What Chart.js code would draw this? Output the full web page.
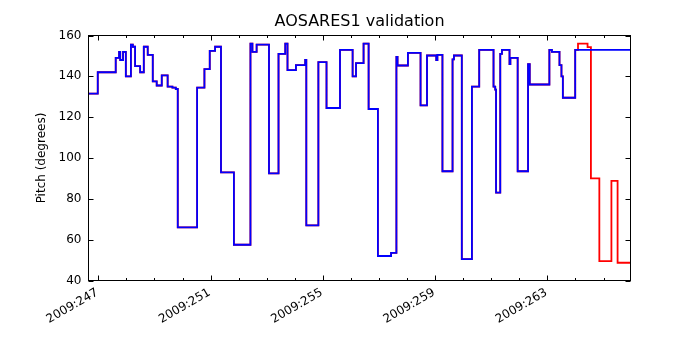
<!DOCTYPE html>
<html><head><meta charset="utf-8">
<script src="https://cdn.jsdelivr.net/npm/chart.js@4"></script>
<style>html,body{margin:0;padding:0;background:#fff;} canvas{display:block;}</style>
</head><body>
<canvas id="c" width="700" height="350"></canvas>
<script>
const chartTitle = 'AOSARES1 validation';
const yAxisLabel = 'Pitch (degrees)';
const tickYear = '2009';
const majorDays = [247, 251, 255, 259, 263];
const xMin = 246.65, xMax = 265.96;
const yMin = 40, yMax = 160, yStep = 20;

// Blue series (telemetry): change times (day of year) and new pitch values
const blueTimes = [246.65, 246.98, 247.62, 247.74, 247.78, 247.88, 247.98, 248.16, 248.23, 248.31,
  248.49, 248.62, 248.76, 248.94, 249.08, 249.26, 249.47, 249.64, 249.76, 249.83,
  250.52, 250.78, 250.97, 251.16, 251.37, 251.83, 252.42, 252.49, 252.64, 253.08,
  253.42, 253.66, 253.74, 254.04, 254.37, 254.41, 254.84, 255.13, 255.61, 256.06,
  256.18, 256.45, 256.63, 256.96, 257.43, 257.62, 257.66, 258.03, 258.48, 258.71,
  259.04, 259.08, 259.26, 259.62, 259.67, 259.95, 260.31, 260.57, 261.08, 261.14,
  261.17, 261.32, 261.38, 261.65, 261.68, 261.94, 262.31, 262.37, 263.07, 263.16,
  263.43, 263.50, 263.55, 263.99, 265.96];
const blueValues = [131.5, 142, 149, 152, 148, 152, 140, 155.5, 154.5, 145,
  142, 154.5, 150.5, 137.5, 135.5, 140.5, 135, 134.5, 133.8, 66,
  134.5, 143.5, 152.5, 154.5, 93, 57.5, 156, 152, 155.5, 92.5,
  151, 156, 143, 145.5, 148, 67, 147, 124.5, 153, 140,
  146.5, 156, 124, 52, 53.5, 149.5, 145.3, 151.5, 125.8, 150.2,
  148, 150.5, 93.5, 148.3, 150.2, 50.5, 135, 153, 135, 133.5,
  83, 151, 153, 146, 149, 93.5, 146, 136, 153, 152,
  145.5, 140, 129.5, 153, 153];

// Red series (model): identical to blue until day 263.99, then diverges
const redSharedCount = 74;
const redTailTimes = [264.09, 264.43, 264.55, 264.85, 265.28, 265.50, 265.96];
const redTailValues = [156, 154.3, 90, 49.5, 88.8, 48.7, 48.7];

const redTimes = blueTimes.slice(0, redSharedCount).concat(redTailTimes);
const redValues = blueValues.slice(0, redSharedCount).concat(redTailValues);

const toPoints = (ts, vs) => ts.map((t, i) => ({x: t, y: vs[i]}));

Chart.defaults.font.family = 'DejaVu Sans';
Chart.defaults.color = '#000';

const frameTicks = {
  id: 'frameTicks',
  afterDatasetsDraw(chart) {
    const {ctx, chartArea: a, scales: {x, y}} = chart;
    ctx.save();
    ctx.strokeStyle = '#000';
    ctx.lineWidth = 1;
    ctx.beginPath();
    for (let d = Math.ceil(xMin); d <= Math.floor(xMax); d++) {
      const px = Math.round(x.getPixelForValue(d)) + 0.5;
      const len = majorDays.includes(d) ? 5 : 2.5;
      ctx.moveTo(px, a.bottom); ctx.lineTo(px, a.bottom - len);
      ctx.moveTo(px, a.top); ctx.lineTo(px, a.top + len);
    }
    for (let v = yMin; v <= yMax; v += yStep) {
      const py = Math.round(y.getPixelForValue(v)) + 0.5;
      ctx.moveTo(a.left, py); ctx.lineTo(a.left + 5, py);
      ctx.moveTo(a.right, py); ctx.lineTo(a.right - 5, py);
    }
    ctx.stroke();
    ctx.strokeRect(a.left, a.top, a.right - a.left, a.bottom - a.top);
    ctx.restore();
  }
};

new Chart(document.getElementById('c'), {
  type: 'line',
  data: {
    datasets: [
      {label: 'telemetry', data: toPoints(blueTimes, blueValues), borderColor: '#0000ff',
       borderWidth: 1.8, pointRadius: 0, stepped: true, fill: false},
      {label: 'model', data: toPoints(redTimes, redValues), borderColor: '#ff0000',
       borderWidth: 1.8, pointRadius: 0, stepped: true, fill: false}
    ]
  },
  options: {
    responsive: false,
    animation: false,
    devicePixelRatio: 1,
    layout: {padding: {left: 0, right: 69.5, top: 0, bottom: 0}},
    plugins: {
      legend: {display: false},
      tooltip: {enabled: false},
      title: {display: true, text: chartTitle, color: '#000', fullSize: false,
        font: {size: 16, weight: 'normal', family: 'DejaVu Sans'},
        padding: {top: 12, bottom: 4.3}}
    },
    scales: {
      x: {
        type: 'linear', min: xMin, max: xMax,
        grid: {display: false, drawTicks: false},
        border: {display: false},
        ticks: {
          stepSize: 1, autoSkip: false, includeBounds: false,
          minRotation: 30, maxRotation: 30, padding: 5, labelOffset: -1,
          font: {size: 12}, color: '#000',
          callback: (v) => majorDays.includes(Math.round(v)) && Math.abs(v - Math.round(v)) < 1e-6 ? tickYear + ':' + Math.round(v) : ''
        },
        afterFit: (s) => { s.height = 69.5; }
      },
      y: {
        min: yMin, max: yMax,
        grid: {display: false, drawTicks: false},
        border: {display: false},
        ticks: {stepSize: yStep, padding: 7, font: {size: 12}, color: '#000'},
        title: {display: true, text: yAxisLabel, font: {size: 12}, color: '#000', padding: {top: 34.5, bottom: 0}},
        afterFit: (s) => { s.width = 88.5; }
      }
    }
  },
  plugins: [frameTicks]
});
</script>
</body></html>
